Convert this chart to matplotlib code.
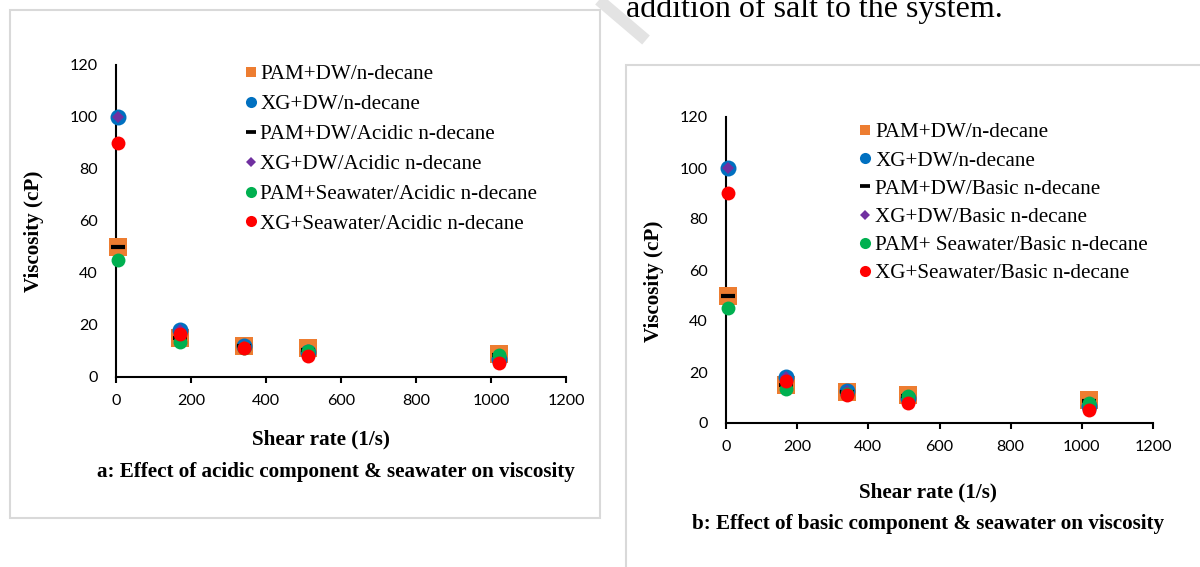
import matplotlib
matplotlib.use("Agg")
import matplotlib.pyplot as plt
from matplotlib.lines import Line2D
from matplotlib.patches import Rectangle

# ---------------- data ----------------
shear_rate = [5.1, 170, 340, 511, 1021]

a_labels = ["PAM+DW/n-decane", "XG+DW/n-decane", "PAM+DW/Acidic n-decane",
            "XG+DW/Acidic n-decane", "PAM+Seawater/Acidic n-decane",
            "XG+Seawater/Acidic n-decane"]
a_pam_dw = [50, 15, 12, 11, 9]
a_xg_dw = [100, 18, 12, 9.5, 7]
a_pam_dw_acid = [50, 15, 12, 10.5, 8.5]
a_xg_dw_acid = [100, 18, 12, 9.5, 7]
a_pam_sw_acid = [45, 13.5, 11, 10, 8.5]
a_xg_sw_acid = [90, 16.5, 11, 8, 5.5]

b_labels = ["PAM+DW/n-decane", "XG+DW/n-decane", "PAM+DW/Basic n-decane",
            "XG+DW/Basic n-decane", "PAM+ Seawater/Basic n-decane",
            "XG+Seawater/Basic n-decane"]
b_pam_dw = [50, 15, 12, 11, 9]
b_xg_dw = [100, 18, 12.5, 10, 6.5]
b_pam_dw_basic = [50, 15, 12, 10.5, 8.5]
b_xg_dw_basic = [100, 18, 12.5, 10, 6.5]
b_pam_sw_basic = [45, 13.5, 11.5, 10.5, 8]
b_xg_sw_basic = [90, 16.5, 11, 8, 5]

x_ticks = [0, 200, 400, 600, 800, 1000, 1200]
y_ticks = [0, 20, 40, 60, 80, 100, 120]

x_title = "Shear rate (1/s)"
y_title = "Viscosity (cP)"
cap_a = "a: Effect of acidic component & seawater on viscosity"
cap_b = "b: Effect of basic component & seawater on viscosity"
top_text = "addition of salt to the system."

# ---------------- style ----------------
W, H = 1200, 567
SERIF = "Liberation Serif"
TICKF = "Lato"
FS = 15.2

styles = [
    dict(marker="s", color="#ED7D31", ms=13.5, lms=7.5, mew=0),
    dict(marker="o", color="#0070C0", ms=11.5, lms=8.0, mew=0),
    dict(marker="_", color="#000000", ms=10.5, lms=7.5, mew=3.0),
    dict(marker="D", color="#7030A0", ms=6.6, lms=5.0, mew=0),
    dict(marker="o", color="#00B050", ms=10.0, lms=8.0, mew=0),
    dict(marker="o", color="#FF0000", ms=10.0, lms=8.0, mew=0),
]


def fx(px):
    return px / W


def fy(py):
    return 1 - py / H


fig = plt.figure(figsize=(W / 100, H / 100), dpi=100)
fig.patch.set_facecolor("white")

# frames around panels
fig.add_artist(Rectangle((fx(10), fy(518)), fx(600) - fx(10), fy(10) - fy(518),
                         transform=fig.transFigure, fill=False,
                         edgecolor="#d9d9d9", linewidth=1.5))
fig.add_artist(Rectangle((fx(626), fy(620)), fx(1300) - fx(626), fy(65) - fy(620),
                         transform=fig.transFigure, fill=False,
                         edgecolor="#d9d9d9", linewidth=1.5, clip_on=False))

# watermark fragment
fig.add_artist(Line2D([fx(599), fx(646)], [fy(0), fy(40)], transform=fig.transFigure,
                      color="#e3e3e3", linewidth=8.5, solid_capstyle="butt"))

fig.text(fx(626), fy(17), top_text, family=SERIF, fontsize=23, va="baseline",
         ha="left", color="black")


def panel(rect, series, labels, leg_xy, leg_space, leg_pad, ylab_xy, xlab_xy, cap_xy, cap):
    ax = fig.add_axes(rect)
    for vals, st, lab in zip(series, styles, labels):
        ax.plot(shear_rate, vals, linestyle="none", marker=st["marker"], color=st["color"],
                markersize=st["ms"], markeredgewidth=st["mew"], markeredgecolor=st["color"],
                label=lab, clip_on=False, zorder=3)
    ax.set_xlim(0, 1200)
    ax.set_ylim(0, 120)
    ax.set_xticks(x_ticks)
    ax.set_yticks(y_ticks)
    for s in ["top", "right"]:
        ax.spines[s].set_visible(False)
    for s in ["left", "bottom"]:
        ax.spines[s].set_linewidth(1.5)
        ax.spines[s].set_color("black")
    ax.tick_params(axis="x", direction="out", length=4, width=1.5, pad=8,
                   labelsize=11.6, labelcolor="black")
    ax.tick_params(axis="y", length=0, pad=13, labelsize=11.6, labelcolor="black")
    for t in ax.get_xticklabels() + ax.get_yticklabels():
        t.set_family(TICKF)
    handles = [Line2D([], [], linestyle="none", marker=st["marker"], color=st["color"],
                      markersize=st["lms"], markeredgewidth=st["mew"] * 0.9,
                      markeredgecolor=st["color"]) for st in styles]
    ax.legend(handles, labels, loc="upper left",
              bbox_to_anchor=(fx(leg_xy[0]), fy(leg_xy[1])), bbox_transform=fig.transFigure,
              frameon=False, borderpad=0, borderaxespad=0, handlelength=0.5,
              handletextpad=leg_pad, labelspacing=leg_space,
              prop={"family": SERIF, "size": FS})
    fig.text(fx(ylab_xy[0]), fy(ylab_xy[1]), y_title, rotation=90, ha="center", va="center",
             family=SERIF, fontweight="bold", fontsize=FS)
    fig.text(fx(xlab_xy[0]), fy(xlab_xy[1]), x_title, ha="center", va="center",
             family=SERIF, fontweight="bold", fontsize=FS)
    fig.text(fx(cap_xy[0]), fy(cap_xy[1]), cap, ha="center", va="center",
             family=SERIF, fontweight="bold", fontsize=FS)
    return ax


panel([fx(116), fy(377), fx(566) - fx(116), fy(65) - fy(377)],
      [a_pam_dw, a_xg_dw, a_pam_dw_acid, a_xg_dw_acid, a_pam_sw_acid, a_xg_sw_acid],
      a_labels, (245.5, 64.5), 0.48, 0.2, (34, 231), (321, 439), (336, 472), cap_a)

panel([fx(726), fy(423), fx(1153) - fx(726), fy(117) - fy(423)],
      [b_pam_dw, b_xg_dw, b_pam_dw_basic, b_xg_dw_basic, b_pam_sw_basic, b_xg_sw_basic],
      b_labels, (859.5, 122.5), 0.40, 0.25, (654, 281), (928, 492), (928, 524), cap_b)

fig.savefig("out.png", dpi=100, facecolor="white")
